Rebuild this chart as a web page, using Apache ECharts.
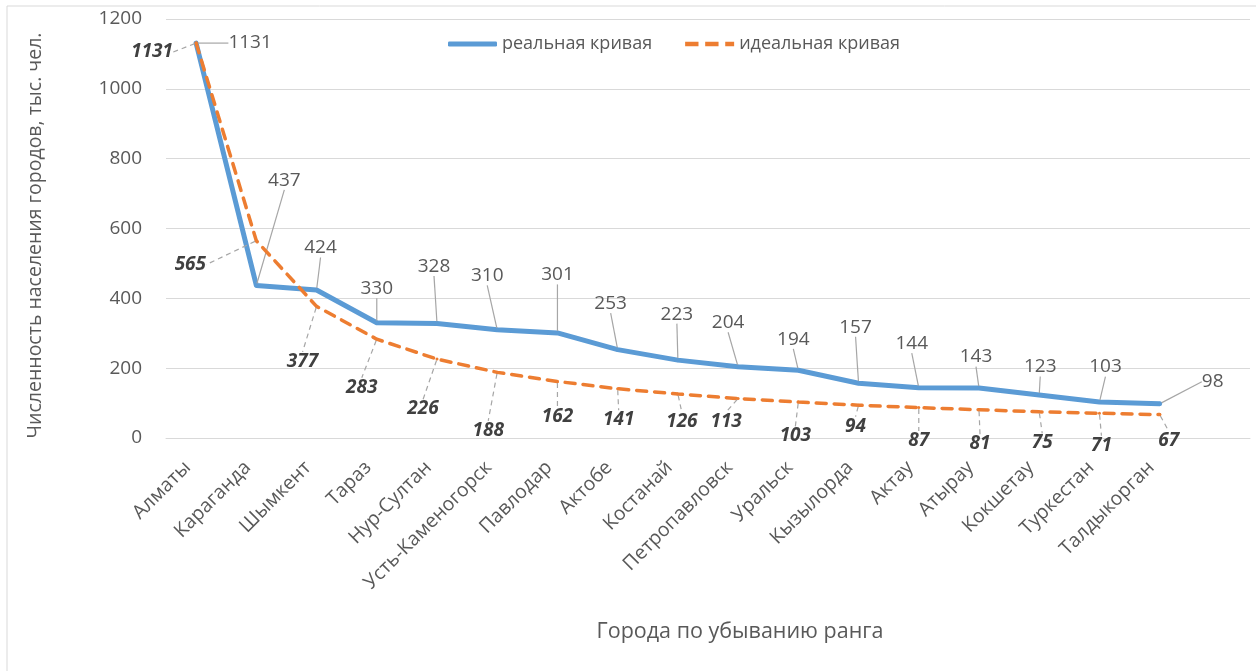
<!DOCTYPE html>
<html lang="ru">
<head>
<meta charset="UTF-8">
<title>Ранговая кривая городов</title>
<script src="https://cdn.jsdelivr.net/npm/echarts@6/dist/echarts.min.js"></script>
<style>
  html, body { margin: 0; padding: 0; background: #fff; }
  #main { width: 1256px; height: 671px; }
</style>
</head>
<body>
<div id="main"></div>
<script>
// данные
const cities = ['Алматы', 'Караганда', 'Шымкент', 'Тараз', 'Нур-Султан', 'Усть-Каменогорск',
  'Павлодар', 'Актобе', 'Костанай', 'Петропавловск', 'Уральск', 'Кызылорда', 'Актау',
  'Атырау', 'Кокшетау', 'Туркестан', 'Талдыкорган'];
const realCurve = [1131, 437, 424, 330, 328, 310, 301, 253, 223, 204, 194, 157, 144, 143, 123, 103, 98];
const idealCurve = [1131, 565, 377, 283, 226, 188, 162, 141, 126, 113, 103, 94, 87, 81, 75, 71, 67];
const yTicks = [0, 200, 400, 600, 800, 1000, 1200];

// сдвиги подписей от точек (как в Excel), px
const realOffX = [54, 28, 4, 0, -3, -10, 0, -7, -1, -10, -5, -3, -7, -3, 1, 6, 53];
const realOffY = [0, -105, -42, -34, -57, -54, -58, -46, -46, -44, -31, -56, -44, -31, -28, -35, -22];
const idealOffX = [-44, -66, -14, -15, -14, -9, 0, 1, 4, -12, -3, -3, 0, 1, 3, 2, 9];
const idealOffY = [9, 24, 55, 48, 50, 58, 35, 31, 28, 23, 34, 21, 33, 34, 31, 32, 26];

const textColor = '#595959';
const fontFamily = '"Open Sans", "Noto Sans", sans-serif';

function placer(offX, offY) {
  return function (p) {
    const cx = p.rect.x + p.rect.width / 2;
    const cy = p.rect.y + p.rect.height / 2;
    return {
      x: cx + offX[p.dataIndex],
      y: cy + offY[p.dataIndex],
      align: 'center',
      verticalAlign: 'middle'
    };
  };
}

const chart = echarts.init(document.getElementById('main'));
chart.setOption({
  animation: false,
  textStyle: { fontFamily: fontFamily },
  graphic: [
    { type: 'rect', shape: { x: 7, y: 6, width: 1260, height: 680 },
      style: { fill: 'none', stroke: '#d9d9d9', lineWidth: 1 }, silent: true },
    { type: 'text', x: 740, y: 632,
      style: { text: 'Города по убыванию ранга', fill: textColor, font: '21.5px ' + fontFamily,
        align: 'center', verticalAlign: 'middle' } }
  ],
  legend: {
    left: 448, top: 35, padding: 0,
    itemWidth: 49, itemHeight: 5, itemGap: 33,
    textStyle: { color: textColor, fontSize: 18 },
    data: [
      { name: 'реальная кривая', icon: 'roundRect' },
      { name: 'идеальная кривая',
        icon: 'path://M0,0h12v4h-12z M18,0h12v4h-12z M36,0h8v4h-8z' }
    ]
  },
  grid: { left: 166, right: 6, top: 19, bottom: 233 },
  xAxis: {
    type: 'category',
    data: cities,
    max: cities.length,   // пустая ячейка справа, как в исходнике
    boundaryGap: true,
    axisLine: { lineStyle: { color: '#d9d9d9' } },
    axisTick: { show: false },
    axisLabel: {
      rotate: 45, margin: 18, padding: [0, 12, 0, 0], color: textColor, fontSize: 19.5,
      interval: 0,
      formatter: v => (cities.indexOf(v) >= 0 ? v : '')
    }
  },
  yAxis: {
    type: 'value',
    min: yTicks[0], max: yTicks[yTicks.length - 1], interval: 200,
    name: 'Численность населения городов, тыс. чел.',
    nameLocation: 'middle', nameGap: 121, nameRotate: 90,
    nameTextStyle: { color: textColor, fontSize: 19.5, padding: [0, 14, 0, 0] },
    axisLine: { show: false },
    axisTick: { show: false },
    axisLabel: { color: textColor, fontSize: 19, margin: 24, formatter: v => String(v) },
    splitLine: { lineStyle: { color: '#d9d9d9', width: 1 } }
  },
  series: [
    {
      name: 'реальная кривая',
      type: 'line',
      data: realCurve,
      z: 3,
      symbol: 'circle', symbolSize: 4,
      itemStyle: { color: '#5b9bd5' },
      lineStyle: { color: '#5b9bd5', width: 5, cap: 'round', join: 'round' },
      label: { show: true, position: 'top', color: textColor, fontSize: 19 },
      labelLayout: placer(realOffX, realOffY),
      labelLine: { show: true, lineStyle: { color: '#a6a6a6', width: 1.2 } }
    },
    {
      name: 'идеальная кривая',
      type: 'line',
      data: idealCurve,
      z: 4,
      symbol: 'circle', symbolSize: 3,
      itemStyle: { color: '#ed7d31' },
      lineStyle: { color: '#ed7d31', width: 3.5, type: [10, 8], cap: 'round' },
      label: { show: true, position: 'bottom', color: '#404040', fontSize: 19,
        fontWeight: 'bold', fontStyle: 'italic' },
      labelLayout: placer(idealOffX, idealOffY),
      labelLine: { show: true, lineStyle: { color: '#a6a6a6', width: 1.2, type: [5, 4] } }
    }
  ]
});
</script>
</body>
</html>
